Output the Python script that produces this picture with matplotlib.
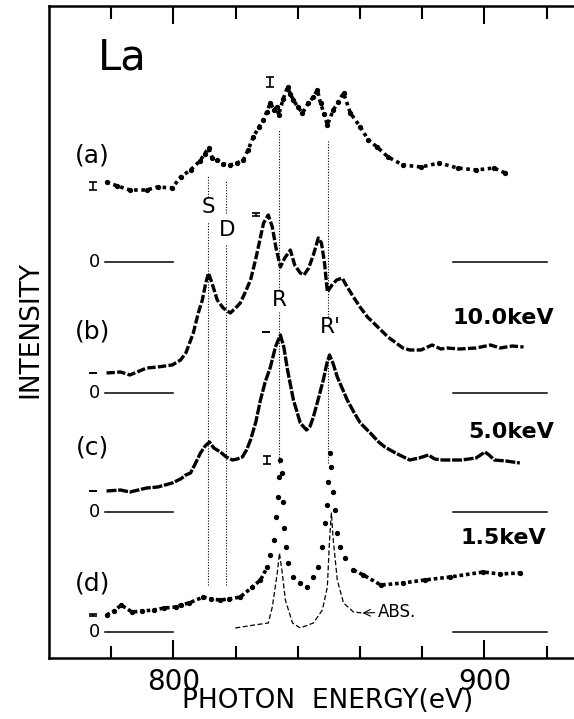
import matplotlib.pyplot as plt

# photon energy (eV) and intensity above each zero line (arbitrary units)
e_a = [778.5, 782, 786, 791.4, 795, 799.6, 802.3, 805.5, 808.5, 810, 811.3, 812.5, 814.1, 816,
       818.3, 820.5, 822.5, 824, 825.7, 827.5, 828.9, 830, 831.2, 832.4, 833.4, 833.8, 835.3,
       836.7, 837.6, 838.6, 840, 841.5, 843.4, 845, 846.3, 847.3, 848.5, 849.5, 851.4, 853,
       854.7, 856.9, 860.1, 862.7, 865.5, 869, 873.8, 879.6, 885.5, 891.4, 897.3, 903, 906.7]
i_a = [80, 76, 72, 72, 75, 74, 85, 92, 101, 108, 114, 104, 102, 98,
       97, 99, 102, 112, 125, 135, 142, 150, 159, 152, 155, 147, 163,
       175, 168, 162, 155, 149, 159, 165, 172, 159, 148, 137, 152, 160,
       169, 149, 135, 122, 115, 105, 97, 95, 99, 94, 92, 94, 89]

e_b = [778.5, 783, 786, 791.4, 795, 799.6, 802.3, 804, 806.4, 808, 809.3, 810.4, 811.3, 812.6,
       814.1, 816, 818.3, 820, 821.5, 823, 824.8, 826.4, 827.8, 829, 830.5, 831.8, 833, 834.4,
       835.8, 837.6, 839, 840.8, 842, 843.5, 845, 846.6, 847.6, 848.6, 849.5, 851, 852.5,
       854.3, 855.5, 857.9, 860, 862.4, 864.4, 869, 873.8, 876, 879.6, 883.2, 886, 888, 892,
       897.3, 902, 905, 909, 912.6]
i_b = [20, 21, 18, 25, 26, 28, 33, 40, 60, 80, 93, 110, 120, 108,
       93, 85, 80, 85, 90, 100, 113, 133, 153, 170, 178, 166, 145, 126,
       135, 143, 128, 120, 118, 125, 138, 155, 150, 130, 101, 108, 113,
       115, 108, 96, 86, 76, 70, 56, 45, 43, 43, 48, 44, 45, 44,
       45, 48, 45, 47, 46]

e_c = [778.5, 783, 786, 791.4, 795, 799.6, 802.3, 804, 805.5, 807, 808.7, 810.2, 811.6, 813,
       815.1, 817, 819, 820.5, 822.2, 823.5, 824.8, 826.5, 828, 829.5, 831.2, 832.8, 834.4,
       835.5, 836.7, 838.6, 840.8, 842.8, 844, 845, 846.5, 848.2, 849.3, 850.2, 851.4, 852.7,
       855.9, 858, 860.1, 863.3, 866, 868, 871.4, 876, 879, 882, 884, 886.7, 892.6, 897.3,
       900.2, 901.5, 903.2, 907, 911.4]
i_c = [21, 22, 20, 24, 25, 29, 33, 37, 39, 48, 59, 66, 70, 64,
       60, 55, 52, 53, 55, 62, 72, 90, 112, 130, 145, 165, 177,
       165, 142, 112, 89, 82, 86, 95, 112, 132, 148, 157, 148, 135,
       112, 100, 89, 79, 70, 65, 59, 52, 54, 57, 53, 52, 52, 54,
       60, 57, 52, 51, 49]

e_d = [778.5, 781, 783.2, 786.7, 790, 793.8, 797, 800.8, 802.3, 805, 809.6, 812, 815, 818,
       821.5, 825.4, 828, 830.2, 831.2, 832.2, 833, 833.6, 834, 834.4, 834.8, 835.2, 835.7,
       836.2, 836.7, 838.6, 840.8, 843, 845, 846.6, 847.9, 848.9, 849.5, 849.8, 850.3, 850.8,
       851.3, 852.1, 852.7, 853.7, 855.3, 857.9, 861.1, 866.7, 873.8, 880.8, 889, 899.6,
       905, 911.4]
i_d = [17, 21, 27, 20, 21, 22, 24, 25, 27, 29, 35, 33, 32, 33,
       35, 45, 52, 65, 77, 92, 115, 135, 155, 172, 159, 130, 104,
       85, 69, 55, 49, 45, 55, 65, 85, 109, 127, 150, 179, 165,
       140, 122, 99, 85, 74, 62, 57, 47, 49, 52, 55, 60,
       58, 59]

e_abs = [819.9, 826, 830.5, 831.8, 833.4, 834.1, 835, 836, 838.3, 840.8, 845, 847.9,
         849.5, 850.2, 850.8, 851.4, 852.7, 854.7, 857.9, 860.8]
i_abs = [4, 7, 9, 25, 59, 79, 59, 32, 9, 4, 9, 22,
         45, 92, 119, 92, 52, 29, 20, 19]

# zero line of each spectrum (a)..(d)
zeros = [396, 265, 146, 26]
panel_labels = ['(a)', '(b)', '(c)', '(d)']
energy_labels = ['10.0keV', '5.0keV', '1.5keV']

# dotted guide lines S, D, R, R'
guide_names = ['S', 'D', 'R', "R'"]
guide_e = [811.0, 817.0, 833.9, 849.8]

fig = plt.figure(figsize=(5.74, 7.19), dpi=100)
ax = fig.add_axes([49 / 574, 61 / 719, 180 * 3.11 / 574, 652 / 719])
ax.set_xlim(760, 940)
ax.set_ylim(0, 652)

k = 'black'
# (a) scattered dots
ax.plot(e_a, [zeros[0] + v for v in i_a], color=k, lw=2.6, ls=(0, (1, 1)),
        marker='o', ms=2.8)
# (b), (c) dense dot lines
ax.plot(e_b, [zeros[1] + v for v in i_b], color=k, lw=2.4, ls=(0, (2.5, 0.7)))
ax.plot(e_c, [zeros[2] + v for v in i_c], color=k, lw=2.4, ls=(0, (3, 0.5)))
# (d) dots: thick band on the flat parts, loose dots on the peaks
for lo, hi in [(770, 831), (856, 920)]:
    seg = [(e, zeros[3] + v) for e, v in zip(e_d, i_d) if lo <= e <= hi]
    ax.plot([p[0] for p in seg], [p[1] for p in seg], color=k, lw=2.6, ls=(0, (1, 0.8)))
ax.plot(e_d, [zeros[3] + v for v in i_d], color=k, ls='none', marker='o', ms=2.8)
# absorption
ax.plot(e_abs, [zeros[3] + v for v in i_abs], color=k, lw=0.9, ls=(0, (4, 2)))

# zero lines
for z in zeros:
    ax.plot([778, 800], [z, z], color=k, lw=1.1)
    ax.plot([890, 920], [z, z], color=k, lw=1.1)
    ax.text(774.6, z, '0', fontsize=13, ha='center', va='center')

# guide lines
seg_top = [[(483, 461), (436, 73)], [(478, 445), (413, 73)],
           [(528, 368), (346, 195)], [(518, 341), (305, 195)]]
for xe, segs in zip(guide_e, seg_top):
    for y0, y1 in segs:
        ax.plot([xe, xe], [y1, y0], color=k, lw=0.8, ls=(0, (1, 1.5)))
guide_pos = [(811.3, 451), (817.4, 428), (834.0, 358), (850.6, 331)]
for name, (xe, ye) in zip(guide_names, guide_pos):
    ax.text(xe, ye, name, fontsize=15.5, ha='center', va='center')

# error bars
err_x = [774, 831.2, 826.4, 774, 829.9, 774, 830.2, 774]
err_y = [472, 576, 444, 285, 326, 167, 198, 43]
err_h = [4, 5, 1.5, 0, 0, 0, 4, 0.7]
ax.errorbar(err_x, err_y, yerr=err_h, fmt='none', ecolor=k, elinewidth=1.2,
            capsize=3, capthick=1.2)

# labels
ax.text(775.6, 600, 'La', fontsize=30, ha='left', va='center')
for lab, yy in zip(panel_labels, [503, 326, 211, 75]):
    ax.text(774, yy, lab, fontsize=18, ha='center', va='center')
for lab, xx, yy in zip(energy_labels, [922.5, 922.5, 920], [340, 226, 120]):
    ax.text(xx, yy, lab, fontsize=16, fontweight='bold', ha='right', va='center')
ax.annotate('ABS.', xy=(860.8, 45), xytext=(865.6, 46), fontsize=12,
            va='center', ha='left',
            arrowprops=dict(arrowstyle='->', color=k, lw=0.8, shrinkA=0, shrinkB=0))

# axes styling
for side in ['left', 'top', 'bottom']:
    ax.spines[side].set_linewidth(1.8)
ax.spines['right'].set_visible(False)
ax.set_yticks([])
ax.set_xticks([800, 900])
ax.set_xticks([780, 820, 840, 860, 880, 920], minor=True)
ax.tick_params(axis='x', which='both', direction='in', top=True, width=1.5)
ax.tick_params(axis='x', which='major', length=13, labelsize=20, pad=7)
ax.tick_params(axis='x', which='minor', length=9)

fig.text(328 / 574, 1 - 701 / 719, 'PHOTON  ENERGY(eV)', fontsize=19,
         ha='center', va='center')
fig.text(30 / 574, 1 - 330 / 719, 'INTENSITY', fontsize=19, rotation=90,
         ha='center', va='center')

fig.savefig('out.png', dpi=100)
